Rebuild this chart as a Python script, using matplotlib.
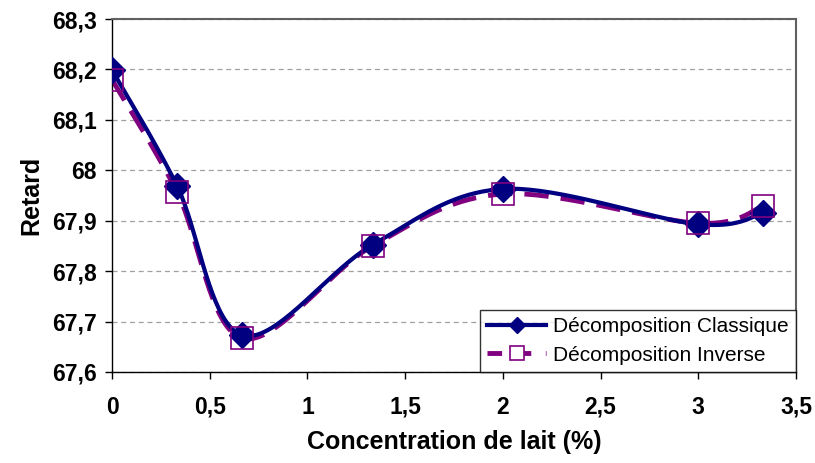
import numpy as np
import matplotlib.pyplot as plt

# data
concentration = [0, 0.333, 0.667, 1.333, 2, 3, 3.333]
retard_classique = [68.199, 67.969, 67.673, 67.852, 67.963, 67.893, 67.915]
retard_inverse = [68.180, 67.957, 67.667, 67.850, 67.953, 67.895, 67.929]
x_ticks = [0, 0.5, 1, 1.5, 2, 2.5, 3, 3.5]
y_ticks = [67.6, 67.7, 67.8, 67.9, 68.0, 68.1, 68.2, 68.3]


def smooth(x, y, n=40):
    """Excel-like smoothed line (Catmull-Rom Bezier)."""
    p = np.column_stack([x, y]).astype(float)
    pts = []
    for i in range(len(p) - 1):
        p0 = p[i - 1] if i > 0 else p[i]
        p3 = p[i + 2] if i + 2 < len(p) else p[i + 1]
        c1 = p[i] + (p[i + 1] - p0) / 6
        c2 = p[i + 1] - (p3 - p[i]) / 6
        t = np.linspace(0, 1, n)[:, None]
        seg = ((1 - t) ** 3 * p[i] + 3 * (1 - t) ** 2 * t * c1
               + 3 * (1 - t) * t ** 2 * c2 + t ** 3 * p[i + 1])
        pts.append(seg if i == 0 else seg[1:])
    pts = np.vstack(pts)
    return pts[:, 0], pts[:, 1]


def fr(v):
    s = ('%.1f' % v).replace('.', ',')
    return s[:-2] if s.endswith(',0') else s


plt.rcParams['font.family'] = ['Liberation Sans', 'DejaVu Sans']

fig = plt.figure(figsize=(8.15, 4.63), dpi=100)
ax = fig.add_axes([112 / 815, 1 - 372 / 463, (796 - 112) / 815, (372 - 19) / 463])

navy = '#000080'
purple = '#800080'

xs, ys = smooth(concentration, retard_classique)
ax.plot(xs, ys, color=navy, lw=3, zorder=3)
ax.plot(concentration, retard_classique, ls='none', marker='D', ms=13,
        color=navy, zorder=4)

xs, ys = smooth(concentration, retard_inverse)
ax.plot(xs, ys, color=purple, lw=3.5, dashes=(5, 2.5), zorder=2)
ax.plot(concentration, retard_inverse, ls='none', marker='s', ms=16,
        mfc='none', mec=purple, mew=1.2, zorder=5)

# legend proxies
ax.plot([], [], color=navy, lw=3, marker='D', ms=8,
        label='Décomposition Classique')
ax.plot([], [], color=purple, lw=3.5, dashes=(3, 3), marker='s', ms=10,
        mfc='white', mec=purple, mew=1.2, label='Décomposition Inverse')
handles, labels = ax.get_legend_handles_labels()
leg = ax.legend(handles[-2:], labels[-2:], loc='lower right',
                bbox_to_anchor=(1.0, 0.0), fontsize=15, frameon=True,
                fancybox=False, edgecolor='black', borderpad=0.35,
                handlelength=2.8, handletextpad=0.35, labelspacing=0.45,
                borderaxespad=0)
leg.get_frame().set_linewidth(1.0)

ax.set_xlim(0, 3.5)
ax.set_ylim(67.6, 68.3)
ax.set_xticks(x_ticks)
ax.set_yticks(y_ticks)
ax.set_xticklabels([fr(v) for v in x_ticks], fontsize=16.5, fontweight='bold')
ax.set_yticklabels([fr(v) for v in y_ticks], fontsize=16.5, fontweight='bold')
ax.tick_params(direction='out', length=5, width=1, color='black')
ax.tick_params(axis='x', pad=12)
ax.tick_params(axis='y', pad=6)

ax.grid(axis='y', ls=(0, (4, 3)), color='#a0a0a0', lw=0.9)
ax.set_axisbelow(True)

for side in ['left', 'bottom']:
    ax.spines[side].set_color('black')
    ax.spines[side].set_linewidth(1)
for side in ['top', 'right']:
    ax.spines[side].set_color('#606060')
    ax.spines[side].set_linewidth(1.5)

ax.set_xlabel('Concentration de lait (%)', fontsize=18, fontweight='bold',
              labelpad=8)
ax.set_ylabel('Retard', fontsize=18, fontweight='bold', labelpad=6)

fig.savefig('out.png', dpi=100)
